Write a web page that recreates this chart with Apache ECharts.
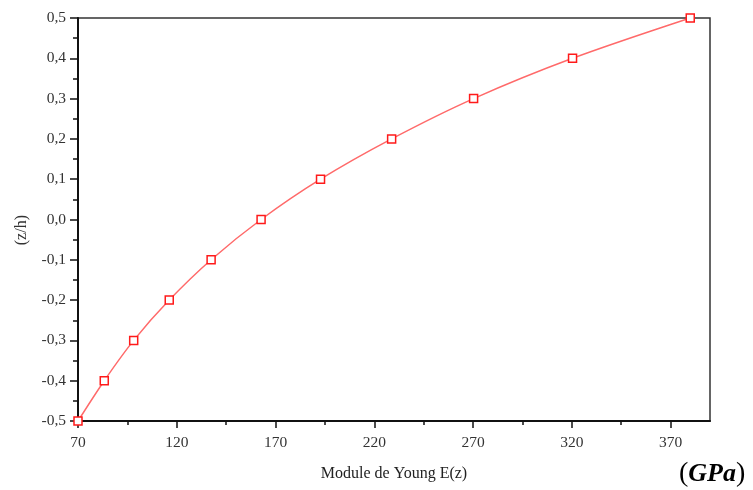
<!DOCTYPE html>
<html>
<head>
<meta charset="utf-8">
<title>Module de Young E(z)</title>
<script src="https://cdn.jsdelivr.net/npm/echarts@6/dist/echarts.min.js"></script>
<style>
  html, body { margin: 0; padding: 0; background: #fff; }
  #chart { width: 753px; height: 490px; }
</style>
</head>
<body>
<div id="chart"></div>
<script>
// valeurs
const youngModulus = [70, 83.3, 98.2, 116.2, 137.4, 162.7, 192.8, 228.8, 270.3, 320.4, 380]
const zOverH = [-0.5, -0.4, -0.3, -0.2, -0.1, 0.0, 0.1, 0.2, 0.3, 0.4, 0.5]
const xMajorTicks = [70, 120, 170, 220, 270, 320, 370]
const xMinorTicks = [95, 145, 195, 245, 295, 345]

const fontFamily = '"Liberation Serif", "DejaVu Serif", serif'

const chart = echarts.init(document.getElementById('chart'))

chart.setOption({
  animation: false,
  grid: {
    left: 78,
    top: 18,
    right: 43,
    bottom: 69,
    show: true,
    borderColor: '#333',
    borderWidth: 1.5,
    containLabel: false
  },
  xAxis: [{
    type: 'value',
    min: 70,
    max: 390,
    name: 'Module de Young E(z)',
    nameLocation: 'middle',
    nameGap: 45,
    nameTextStyle: { fontFamily, fontSize: 16, color: '#222' },
    axisLine: { show: true, onZero: false, lineStyle: { color: '#111', width: 2 } },
    axisTick: {
      show: true,
      customValues: xMajorTicks,
      inside: false,
      length: 7,
      lineStyle: { color: '#111', width: 1.5 }
    },
    axisLabel: {
      customValues: xMajorTicks,
      fontFamily,
      fontSize: 15.5,
      color: '#333',
      margin: 14
    },
    splitLine: { show: false }
  }, {
    // petites graduations
    type: 'value',
    position: 'bottom',
    min: 70,
    max: 390,
    axisLine: { show: false, onZero: false },
    axisTick: {
      show: true,
      customValues: xMinorTicks,
      length: 4,
      lineStyle: { color: '#111', width: 1.5 }
    },
    axisLabel: { show: false },
    splitLine: { show: false }
  }],
  yAxis: {
    type: 'value',
    min: -0.5,
    max: 0.5,
    interval: 0.1,
    axisLine: { show: true, onZero: false, lineStyle: { color: '#111', width: 2 } },
    axisTick: { show: true, length: 8, lineStyle: { color: '#111', width: 1.5 } },
    minorTick: { show: true, splitNumber: 2, length: 5, lineStyle: { color: '#111', width: 1.5 } },
    axisLabel: {
      fontFamily,
      fontSize: 15.5,
      color: '#333',
      margin: 12,
      formatter: v => v.toFixed(1).replace('.', ',')
    },
    splitLine: { show: false }
  },
  graphic: [{
    type: 'text',
    left: 14,
    top: 215,
    rotation: Math.PI / 2,
    style: {
      text: '(z/h)',
      font: '16px ' + fontFamily,
      fill: '#333'
    }
  }, {
    type: 'text',
    left: 679,
    top: 460,
    style: {
      text: '{p|(}{g|GPa}{p|)}',
      rich: {
        p: { fontFamily, fontSize: 28, color: '#111' },
        g: { fontFamily, fontSize: 26, fontWeight: 'bold', fontStyle: 'italic', color: '#111' }
      }
    }
  }],
  series: [{
    type: 'line',
    xAxisIndex: 0,
    data: youngModulus.map((e, i) => [e, zOverH[i]]),
    smooth: 0.3,
    symbol: 'rect',
    symbolSize: 8,
    lineStyle: { color: '#ff6a6a', width: 1.5 },
    itemStyle: { color: '#fff', borderColor: '#ff1a1a', borderWidth: 1.5 }
  }]
})
</script>
</body>
</html>
